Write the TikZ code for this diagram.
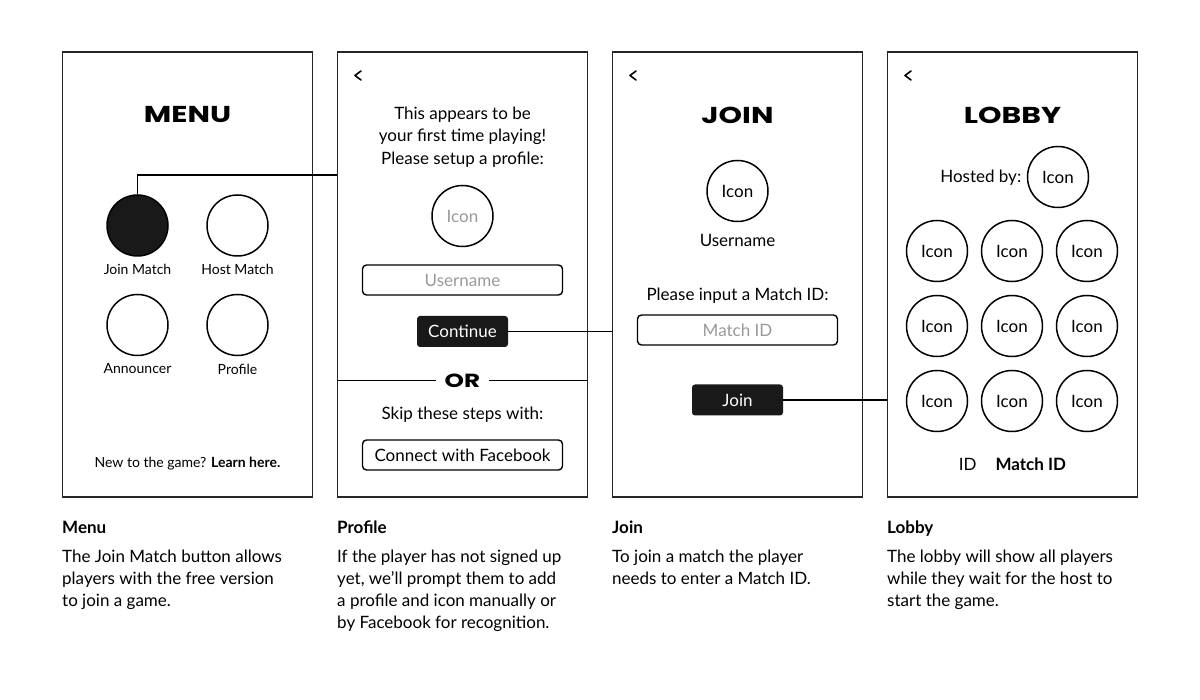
\documentclass[tikz,border=0pt]{standalone}
\usepackage{fontspec}
\setmainfont{Lato}
\newfontfamily\titlefont{Poppins}
\usetikzlibrary{positioning}
\newcommand{\widetxt}[1]{\scalebox{1.3}[1]{#1}}

\begin{document}
\begin{tikzpicture}[x=1pt, y=-1pt,
    panel/.style={draw=black!85, line width=1.6pt, minimum width=250pt, minimum height=445pt, inner sep=0pt},
    icon/.style={draw, circle, line width=1.5pt, minimum size=61pt, inner sep=0pt, font=\fontsize{17}{20}\selectfont},
    title/.style={font=\titlefont\bfseries\fontsize{23}{26}\selectfont},
    txt/.style={font=\fontsize{17}{22.5}\selectfont, align=center},
    small/.style={font=\fontsize{14}{17}\selectfont},
    field/.style={draw, line width=1.4pt, rounded corners=4pt, minimum width=200pt, minimum height=30pt, font=\fontsize{17}{20}\selectfont},
    btn/.style={fill=black!90, rounded corners=3pt, text=white, minimum width=91pt, minimum height=31pt, inner sep=0pt, font=\fontsize{17}{20}\selectfont},
    link/.style={line width=1.4pt},
    back/.style={line width=1.6pt, line cap=round, line join=round},
    captitle/.style={anchor=base west, inner sep=0pt, font=\bfseries\fontsize{17}{20}\selectfont},
    capbody/.style={anchor=north west, inner sep=0pt, align=left, font=\fontsize{17}{22}\selectfont}]
    \useasboundingbox (0,0) rectangle (1200,700);

    % Screens
    \node[panel] (menu) at (187.5,274.5) {};
    \node[panel] (profile) at (462.5,274.5) {};
    \node[panel] (join) at (737.5,274.5) {};
    \node[panel] (lobby) at (1012.5,274.5) {};

    % Back arrows
    \foreach \x in {337,612,887} {
        \draw[back] (\x+24,71) -- ++(-6,4.5) -- ++(6,4.5);
    }

    % Menu screen
    \node[title] (menutitle) at (187.5,114.5) {\widetxt{MENU}};
    \node[icon, fill=black!90] (joinmatch) at (137.5,225.5) {};
    \node[icon] (hostmatch) at (237.5,225.5) {};
    \node[icon] (announcer) at (137.5,325) {};
    \node[icon] (profilebtn) at (237.5,325) {};
    \node[small] at (137.5,269) {Join Match};
    \node[small] at (237.5,269) {Host Match};
    \node[small] at (137.5,369) {Announcer};
    \node[small] at (237.5,369) {Profile};
    \node[small] at (187.5,464) {New to the game? \textbf{Learn here.}};

    % Profile screen
    \node[txt] (welcome) at (462.5,137) {This appears to be\\your first time playing!\\Please setup a profile:};
    \node[icon, text=black!40] (newicon) at (462.5,216) {Icon};
    \node[field, text=black!40] (username) at (462.5,280) {Username};
    \node[btn] (continue) at (462.5,331.5) {Continue};
    \node[title, font=\titlefont\bfseries\fontsize{19}{22}\selectfont, inner xsep=9pt] (or) at (462.5,380.5) {\widetxt{OR}};
    \draw[link] (profile.west |- or) -- (or.west);
    \draw[link] (or.east) -- (profile.east |- or);
    \node[txt] (skip) at (462.5,415) {Skip these steps with:};
    \node[field] (facebook) at (462.5,455) {Connect with Facebook};

    % Join screen
    \node[title] (jointitle) at (737.5,115) {\widetxt{JOIN}};
    \node[icon] (myicon) at (737.5,191) {Icon};
    \node[txt] (myname) at (737.5,240) {Username};
    \node[txt] (askid) at (737.5,296) {Please input a Match ID:};
    \node[field, text=black!40] (matchid) at (737.5,330) {Match ID};
    \node[btn] (joinbtn) at (737.5,400) {Join};

    % Lobby screen
    \node[title] (lobbytitle) at (1012.5,115) {\widetxt{LOBBY}};
    \node[icon] (host) at (1058,177) {Icon};
    \node[txt, left=2pt of host, yshift=-1pt] (hostedby) {Hosted by:};
    \foreach \c [count=\i] in {937,1012,1087} {
        \foreach \r [count=\j] in {251,326,401} {
            \node[icon] (player\i\j) at (\c,\r) {Icon};
        }
    }
    \node[txt] (lobbyid) at (1012.5,464) {ID\hspace{19pt}\textbf{Match ID}};

    % Flow between screens
    \coordinate (hook) at (0,175);
    \draw[link] (joinmatch.north) |- (profile.west |- hook);
    \draw[link] (continue.east) -- (join.west |- continue.east);
    \draw[link] (joinbtn.east) -- (lobby.west |- joinbtn.east);

    % Captions
    \node[captitle] at (62,533) {Menu};
    \node[capbody] at (62,550) {The Join Match button allows\\players with the free version\\to join a game.};
    \node[captitle] at (337,533) {Profile};
    \node[capbody] at (337,550) {If the player has not signed up\\yet, we'll prompt them to add\\a profile and icon manually or\\by Facebook for recognition.};
    \node[captitle] at (612,533) {Join};
    \node[capbody] at (612,550) {To join a match the player\\needs to enter a Match ID.};
    \node[captitle] at (887,533) {Lobby};
    \node[capbody] at (887,550) {The lobby will show all players\\while they wait for the host to\\start the game.};
\end{tikzpicture}
\end{document}
